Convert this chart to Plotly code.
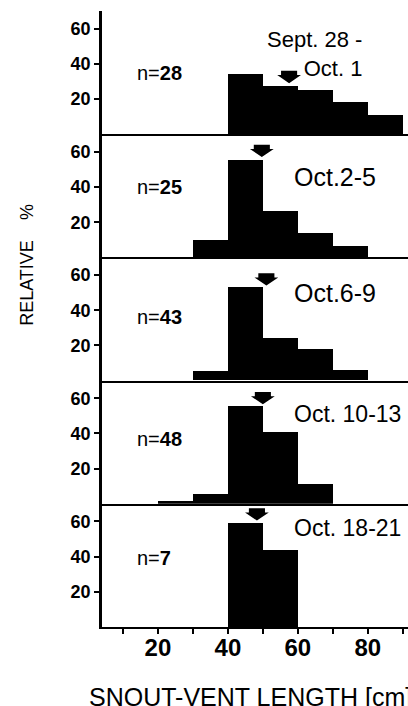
import plotly.graph_objects as go
from plotly.subplots import make_subplots

# ---- data ----
bin_left = [20, 30, 40, 50, 60, 70, 80]          # snout-vent length bins [cm], width 10
bin_width = 10
panel_dates = ["Sept. 28 -<br>Oct. 1", "Oct.2-5", "Oct.6-9", "Oct. 10-13", "Oct. 18-21"]
sample_sizes = ["28", "25", "43", "48", "7"]

rel_sep28_oct1 = [0, 0, 34, 27.5, 25, 18.5, 11]
rel_oct2_5 = [0, 9.5, 55, 26, 13.5, 6.5, 0]
rel_oct6_9 = [0, 5, 53, 24, 18, 6, 0]
rel_oct10_13 = [2, 6, 56, 41, 11.5, 0, 0]
rel_oct18_21 = [0, 0, 59, 44, 0, 0, 0]
panels = [rel_sep28_oct1, rel_oct2_5, rel_oct6_9, rel_oct10_13, rel_oct18_21]

mean_svl = [57.5, 49.7, 51, 50, 48.3]           # arrow positions (mean length)
arrow_tip = [29, 57, 54, 56.5, 60.5]            # arrow tip heights (%)

y_ticks = [20, 40, 60]
x_tickvals = [10, 20, 30, 40, 50, 60, 70, 80, 90]
x_ticktext = ["", "20", "", "40", "", "60", "", "80", ""]

FONT = "Liberation Sans"
n = len(panels)
fig = make_subplots(rows=n, cols=1, shared_xaxes=True, vertical_spacing=0)

n_label_y = [35, 40, 36, 37, 39]
date_label_y = [45.5, 45.8, 50, 51, 56]
date_font_size = [22, 25, 25, 23, 23]

centers = [b + bin_width / 2 for b in bin_left]
for i, vals in enumerate(panels):
    r = i + 1
    fig.add_trace(go.Bar(x=centers, y=vals, width=bin_width,
                         marker=dict(color="black", line=dict(width=0)),
                         showlegend=False, hoverinfo="skip"), row=r, col=1)
    m, t = mean_svl[i], arrow_tip[i]
    sw, hw, hh, st = 2.3, 3.4, 4.6, 2.4
    ax = [m - sw, m + sw, m + sw, m + hw, m, m - hw, m - sw, m - sw]
    ay = [t + hh + st, t + hh + st, t + hh, t + hh, t, t + hh, t + hh, t + hh + st]
    fig.add_trace(go.Scatter(x=ax, y=ay, mode="lines", fill="toself", fillcolor="black",
                             line=dict(width=0, color="black"),
                             showlegend=False, hoverinfo="skip"), row=r, col=1)
    fig.add_annotation(text="n=<b>" + sample_sizes[i] + "</b>", x=13.5, y=n_label_y[i],
                       xanchor="left", yanchor="middle", showarrow=False,
                       font=dict(family=FONT, size=20, color="black"), row=r, col=1)
    if i == 0:
        fig.add_annotation(text=panel_dates[i], x=79, y=date_label_y[i], xanchor="right",
                           yanchor="middle", align="right", showarrow=False,
                           font=dict(family=FONT, size=date_font_size[i], color="black"),
                           row=r, col=1)
    else:
        fig.add_annotation(text=panel_dates[i], x=58.3, y=date_label_y[i],
                           xanchor="left", yanchor="middle", showarrow=False,
                           font=dict(family=FONT, size=date_font_size[i], color="black"),
                           row=r, col=1)
    fig.update_yaxes(range=[0, 70], tickvals=y_ticks, ticks="outside", ticklen=5, tickwidth=2,
                     tickcolor="black", showline=True, linewidth=2.5, linecolor="black",
                     showgrid=False, zeroline=False,
                     tickfont=dict(family=FONT, size=18, color="black", weight="bold"),
                     row=r, col=1)
    fig.update_xaxes(range=[4, 91.5], showline=True, linewidth=2, linecolor="black",
                     showgrid=False, zeroline=False, row=r, col=1)

fig.update_xaxes(tickvals=x_tickvals, ticktext=x_ticktext, ticks="outside", ticklen=5, tickwidth=2,
                 tickcolor="black", showticklabels=True, ticklabelstandoff=-7,
                 tickfont=dict(family=FONT, size=24, color="black", weight="bold"),
                 row=n, col=1)

fig.add_annotation(text="RELATIVE\u00a0\u00a0\u00a0\u00a0%", xref="paper", yref="paper",
                   x=-0.245, y=0.588, xanchor="center", yanchor="middle", textangle=-90,
                   showarrow=False, font=dict(family=FONT, size=18, color="black"))
fig.add_annotation(text="SNOUT-VENT LENGTH [cm]", xref="paper", yref="paper",
                   x=-0.049, y=-0.1136, xanchor="left", yanchor="middle",
                   showarrow=False, font=dict(family=FONT, size=25, color="black"))

fig.update_layout(width=408, height=706, margin=dict(l=102, r=0, t=11, b=79),
                  paper_bgcolor="white", plot_bgcolor="white", bargap=0, showlegend=False)

fig.write_html("out.html", config={"displayModeBar": False},
               post_script="document.body.style.margin='0';document.body.style.overflow='hidden';")
